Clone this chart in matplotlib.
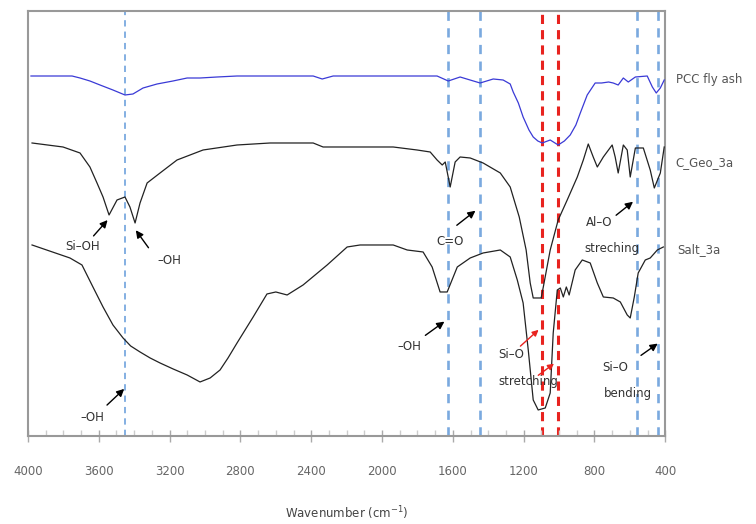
import matplotlib
matplotlib.use('Agg')
import matplotlib.pyplot as plt
from matplotlib.ticker import MultipleLocator

# FTIR spectra, offset transmittance (a.u.)
pcc_wn = [3983, 3751, 3706, 3650, 3593, 3520, 3452, 3407, 3350, 3271, 3181, 3101, 3028, 2932, 2819,
          2389, 2338, 2276, 1689, 1626, 1559, 1446, 1372, 1316, 1276, 1259, 1230, 1203, 1170, 1146,
          1120, 1095, 1050, 1005, 970, 937, 905, 880, 841, 796, 760, 720, 694, 666, 637, 609, 569,
          502, 473, 451, 428, 406]
pcc_t = [360, 360, 358, 355, 351, 346, 341, 342, 348, 352, 355, 358, 358, 359, 360,
         360, 357, 360, 360, 355, 359, 353, 357, 356, 352, 344, 333, 319, 306, 299,
         295, 293, 296, 291, 295, 301, 311, 323, 341, 353, 353, 354, 353, 351, 358, 354, 359,
         360, 349, 343, 348, 356]

geo_wn = [3977, 3802, 3706, 3650, 3610, 3576, 3542, 3497, 3452, 3424, 3395, 3367, 3327, 3254, 3158,
          3011, 2819, 2632, 2389, 2333, 1937, 1802, 1728, 1689, 1660, 1643, 1615, 1587, 1559, 1502,
          1429, 1332, 1276, 1225, 1186, 1163, 1146, 1101, 1089, 1050, 1005, 954, 897, 863, 835,
          807, 784, 750, 700, 683, 666, 637, 615, 598, 569, 524, 485, 462, 428, 406]
geo_t = [293, 289, 283, 269, 253, 239, 221, 236, 239, 229, 213, 233, 253, 263, 276,
         286, 291, 293, 293, 289, 289, 286, 284, 276, 271, 274, 249, 274, 279, 278,
         273, 263, 249, 219, 186, 153, 138, 138, 149, 186, 216, 236, 259, 276, 292,
         279, 269, 279, 291, 279, 263, 291, 286, 259, 288, 288, 266, 248, 263, 289]

salt_wn = [3977, 3763, 3695, 3633, 3576, 3520, 3463, 3420, 3367, 3310, 3254, 3180, 3101, 3028, 2971,
           2915, 2870, 2819, 2728, 2650, 2600, 2536, 2446, 2310, 2197, 2124, 1937, 1858, 1768, 1717,
           1672, 1632, 1575, 1502, 1429, 1332, 1276, 1236, 1203, 1174, 1146, 1118, 1078, 1050, 1033,
           1010, 993, 976, 959, 943, 909, 869, 824, 784, 750, 694, 654, 615, 598, 575, 553, 513,
           485, 445, 411]
salt_t = [191, 178, 171, 149, 129, 111, 98, 90, 84, 78, 73, 67, 61, 54, 58,
          66, 78, 93, 119, 142, 144, 141, 151, 171, 189, 191, 191, 186, 184, 169,
          144, 144, 169, 178, 183, 186, 179, 156, 133, 86, 36, 26, 28, 43, 103,
          146, 148, 139, 149, 141, 166, 176, 173, 153, 139, 138, 134, 121, 118, 139, 163, 176,
          178, 186, 189]

blue_marks = [3450, 1625, 1445, 560, 440]
blue_widths = [1.3, 1.9, 1.9, 1.9, 1.9]
red_marks = [1095, 1005]

fig = plt.figure(figsize=(7.56, 5.24), dpi=100)
ax = fig.add_axes([0.037, 0.168, 0.843, 0.811])

for w, lw in zip(blue_marks, blue_widths):
    ax.axvline(w, color='#7aa9df', lw=lw, ls=(0, (3.5, 2.8)), zorder=1)
for w in red_marks:
    ax.axvline(w, color='#e8231f', lw=2.2, ls=(0, (3.0, 2.0)), zorder=1)

ax.plot(pcc_wn, pcc_t, color='#3a3ad6', lw=0.9, zorder=3)
ax.plot(geo_wn, geo_t, color='#222222', lw=0.9, zorder=3)
ax.plot(salt_wn, salt_t, color='#222222', lw=0.9, zorder=3)

ax.set_xlim(4000, 400)
ax.set_ylim(0, 425)
ax.set_yticks([])
ax.xaxis.set_major_locator(MultipleLocator(400))
ax.xaxis.set_minor_locator(MultipleLocator(100))
ax.tick_params(axis='x', which='major', direction='inout', length=8, width=1, color='#aaaaaa',
               labelsize=8.5, labelcolor='#666666', pad=17)
ax.tick_params(axis='x', which='minor', direction='in', length=4, width=1, color='#cccccc')
for s in ax.spines.values():
    s.set_color('#999999')
    s.set_linewidth(1.5)

ax.set_xlabel('Wavenumber (cm$^{-1}$)', fontsize=8.5, color='#444444', labelpad=19)

txt = dict(fontsize=8.5, color='#333333', ha='center', va='center')
arr = dict(arrowstyle='-|>', color='black', lw=1.0, mutation_scale=11)
red_arr = dict(arrowstyle='-|>', color='#e8231f', lw=1.0, mutation_scale=9)

ax.annotate('', xy=(3540, 218), xytext=(3640, 198), arrowprops=arr)
ax.text(3690, 189, 'Si\u2013OH', **txt)
ax.annotate('', xy=(3400, 208), xytext=(3310, 186), arrowprops=arr)
ax.text(3200, 175, '\u2013OH', **txt)
ax.annotate('', xy=(3445, 49), xytext=(3565, 29), arrowprops=arr)
ax.text(3635, 18, '\u2013OH', **txt)
ax.annotate('', xy=(1460, 227), xytext=(1590, 209), arrowprops=arr)
ax.text(1615, 194, 'C=O', **txt)
ax.annotate('', xy=(1635, 116), xytext=(1768, 99), arrowprops=arr)
ax.text(1843, 89, '\u2013OH', **txt)
ax.annotate('', xy=(570, 236), xytext=(690, 219), arrowprops=arr)
ax.text(775, 213, 'Al\u2013O', **txt)
ax.text(700, 187, 'streching', **txt)
ax.annotate('', xy=(1104, 108), xytext=(1230, 88), arrowprops=red_arr)
ax.annotate('', xy=(1016, 74), xytext=(1130, 59), arrowprops=red_arr)
ax.text(1270, 81, 'Si\u2013O', **txt)
ax.text(1175, 54, 'stretching', **txt)
ax.annotate('', xy=(430, 94), xytext=(550, 79), arrowprops=arr)
ax.text(685, 68, 'Si\u2013O', **txt)
ax.text(610, 42, 'bending', **txt)

lab = dict(fontsize=8.5, color='#555555', ha='left', va='center', transform=ax.transData, clip_on=False)
ax.text(340, 356, 'PCC fly ash', **lab)
ax.text(345, 273, 'C_Geo_3a', **lab)
ax.text(330, 186, 'Salt_3a', **lab)

fig.savefig('out.png', dpi=100)
